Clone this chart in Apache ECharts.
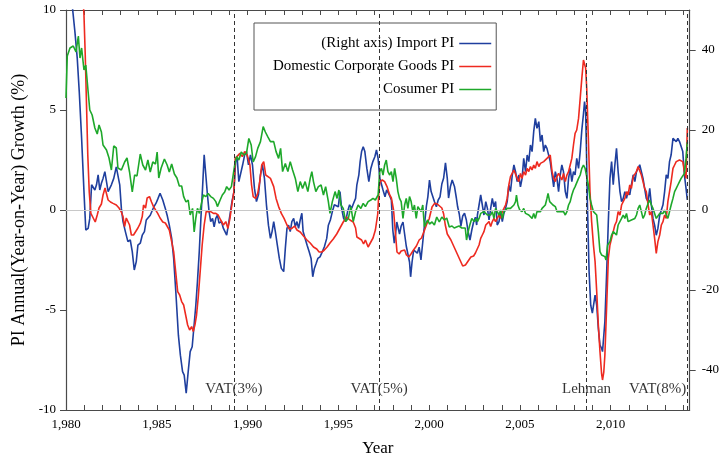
<!DOCTYPE html>
<html><head><meta charset="utf-8">
<script src="https://cdn.jsdelivr.net/npm/echarts@6/dist/echarts.min.js"></script>
<style>html,body{margin:0;padding:0;background:#fff}#c{width:722px;height:463px}</style>
</head><body><div id="c"></div>
<script>
// ---- data: [year, value] ----
const importPI = [
[1980.0,78],[1980.2,65],[1980.36,50.4],[1980.49,44.6],[1980.62,37.9],[1980.73,29.6],[1980.86,17.9],[1980.99,4.6],[1981.09,-5],[1981.22,-4.6],[1981.31,-2.1],[1981.41,6.3],[1981.5,6.7],[1981.59,5],[1981.68,6.3],[1981.77,8.8],[1981.86,5],[1981.95,6.7],[1982.04,7.9],[1982.14,9.6],[1982.23,9.2],[1982.32,4.6],[1982.41,5],[1982.5,6.3],[1982.63,7.9],[1982.77,10.8],[1982.86,10.4],[1982.96,6.3],[1983.05,0.4],[1983.14,-2.9],[1983.27,-5.4],[1983.41,-7.9],[1983.54,-7.5],[1983.65,-10.4],[1983.76,-15],[1983.87,-12.9],[1983.96,-8.8],[1984.09,-8.3],[1984.2,-6.3],[1984.32,-5.4],[1984.42,-2.5],[1984.53,-2.9],[1984.64,-1.3],[1984.74,-0.8],[1984.84,0.8],[1984.96,1.7],[1985.07,2.9],[1985.18,4.2],[1985.33,2.5],[1985.47,0.4],
[1985.57,-1.3],[1985.69,-3.8],[1985.82,-7.1],[1985.93,-12.1],[1986.06,-21.3],[1986.19,-31.3],[1986.3,-36.3],[1986.42,-40.4],[1986.51,-41.3],[1986.62,-45.8],[1986.73,-40.4],[1986.84,-35.4],[1986.95,-34.2],[1987.06,-33.8],[1987.15,-23.8],[1987.24,-17.9],[1987.34,-10.4],[1987.43,-2.1],[1987.52,5.4],[1987.61,13.8],[1987.7,8.8],[1987.79,3.8],[1987.88,-0.4],[1987.97,-2.9],[1988.07,-2.1],[1988.16,-4.2],[1988.25,-2.1],[1988.34,-1.3],[1988.43,-3.3],[1988.56,-2.9],[1988.67,-4.6],[1988.76,-4.2],[1988.85,-6.3],[1988.94,-3.8],[1989.03,-1.3],[1989.14,2.1],[1989.25,4.6],[1989.34,12.1],[1989.43,12.9],[1989.52,7.1],[1989.62,7.5],[1989.73,11.3],[1989.84,13.8],[1989.94,14.6],[1990.05,11.3],[1990.16,13.8],[1990.27,11.3],[1990.38,5.4],[1990.49,2.1],[1990.6,3.8],[1990.71,8.8],[1990.82,11.3],[1990.93,7.9],[1991.04,1.3],[1991.15,-3.8],[1991.26,-7.1],[1991.35,-5.4],
[1991.44,-2.9],[1991.53,-5.4],[1991.64,-8.8],[1991.75,-12.1],[1991.86,-14.6],[1991.99,-15.4],[1992.08,-9.6],[1992.17,-4.6],[1992.26,-3.8],[1992.35,-5.4],[1992.44,-2.9],[1992.54,-2.1],[1992.63,-4.2],[1992.72,-2.9],[1992.81,-4.6],[1992.9,-2.5],[1992.99,-0.8],[1993.06,-5.4],[1993.17,-7.1],[1993.28,-8.8],[1993.39,-10.4],[1993.5,-12.1],[1993.59,-16.7],[1993.68,-14.6],[1993.78,-13.3],[1993.87,-12.1],[1993.99,-11.7],[1994.12,-10.4],[1994.23,-9.2],[1994.36,-7.1],[1994.45,-3.8],[1994.56,-2.5],[1994.67,-0.4],[1994.78,1.3],[1994.89,1.7],[1995.0,0.8],[1995.09,4.6],[1995.18,0.4],[1995.29,-2.1],[1995.4,-2.9],[1995.51,-0.4],[1995.62,1.3],[1995.73,0.4],[1995.84,1.7],[1995.95,2.9],[1996.02,6.3],[1996.13,8.8],[1996.2,12.1],[1996.28,14.6],[1996.37,15.8],[1996.46,14.6],[1996.57,10.4],[1996.68,7.1],[1996.79,10.4],[1996.9,12.1],
[1997.01,13.3],[1997.1,15],[1997.19,12.9],[1997.28,8],[1997.37,8.5],[1997.46,5],[1997.57,3.3],[1997.66,5],[1997.75,4.3],[1997.83,3.5],[1997.92,2.5],[1998.0,-5],[1998.08,-8.3],[1998.15,-6],[1998.22,-3],[1998.3,-2.6],[1998.37,-6],[1998.46,-4],[1998.56,-3],[1998.65,-6],[1998.74,-9],[1998.83,-11],[1998.92,-13],[1998.98,-16.7],[1999.06,-13],[1999.15,-10],[1999.25,-9.5],[1999.35,-10.8],[1999.45,-9.3],[1999.55,-12.5],[1999.65,-8],[1999.76,-3],[1999.85,1],[1999.93,3.3],[2000.02,7.5],[2000.11,4.6],[2000.2,5],[2000.3,2],[2000.4,0.8],[2000.5,2.5],[2000.6,3.3],[2000.7,6.5],[2000.8,8],[2000.9,11.8],[2001.0,7.9],[2001.07,3],[2001.17,5.8],[2001.27,7.5],[2001.4,5.8],[2001.5,3],[2001.57,0.8],[2001.66,-1],[2001.75,-4],[2001.85,-1.5],[2001.95,-0.8],[2002.05,-2.5],[2002.15,-5.5],[2002.25,-7.5],[2002.35,-5],[2002.45,-3],[2002.55,-1.8],[2002.62,-3.75],
[2002.66,-1.25],[2002.75,1.25],[2002.84,3.75],[2002.93,1.25],[2003.02,-1.25],[2003.12,2.1],[2003.21,0.4],[2003.3,-2.5],[2003.39,0.4],[2003.48,2.9],[2003.57,0.8],[2003.66,2.1],[2003.75,-3.75],[2003.85,-2.9],[2003.94,-0.4],[2004.03,-2.9],[2004.12,-0.8],[2004.21,0.4],[2004.3,2.1],[2004.39,6.25],[2004.48,4.6],[2004.58,8.75],[2004.67,11.25],[2004.76,9.6],[2004.85,7.1],[2004.94,8.75],[2005.03,5.8],[2005.12,7.9],[2005.21,12.9],[2005.31,9.6],[2005.4,13.75],[2005.49,12.1],[2005.58,16.25],[2005.67,14.6],[2005.76,19.6],[2005.85,22.9],[2005.94,20.4],[2006.04,22.1],[2006.13,17.1],[2006.22,18.75],[2006.31,14.6],[2006.4,16.25],[2006.49,15.4],[2006.58,15.8],[2006.67,12.1],[2006.77,8.75],[2006.86,5.8],[2006.95,9.6],[2007.04,7.9],[2007.13,4.6],[2007.22,8.75],[2007.31,11.25],[2007.4,9.6],[2007.5,4.6],[2007.59,2.9],[2007.68,7.9],[2007.77,10.4],[2007.86,7.1],[2007.95,9.6],[2008.04,8.75],[2008.13,12.9],[2008.23,10.4],[2008.32,14.6],[2008.41,20],[2008.5,24],[2008.56,27.1],[2008.62,24.6],[2008.66,16],
[2008.72,1.3],[2008.81,-15.4],[2008.9,-23.8],[2008.99,-25.8],[2009.08,-25.8],[2009.14,-21.3],[2009.23,-23.8],[2009.32,-29.6],[2009.41,-33.8],[2009.5,-34.6],[2009.55,-35.4],[2009.68,-27.9],[2009.78,-15.4],[2009.87,-2.9],[2009.96,7.9],[2010.05,12.1],[2010.14,6.3],[2010.23,11.3],[2010.32,15.4],[2010.41,9.6],[2010.51,4.6],[2010.6,2.1],[2010.69,2.9],[2010.78,4.6],[2010.87,2.9],[2010.96,4.6],[2011.05,3.8],[2011.14,6.3],[2011.24,8.8],[2011.33,7.1],[2011.42,9.6],[2011.51,10.4],[2011.6,11.3],[2011.69,9.6],[2011.78,7.9],[2011.87,5.4],[2011.96,2.9],[2012.06,2.1],[2012.15,5.4],[2012.24,1.3],[2012.33,-2.1],[2012.42,-3.8],[2012.51,-6.3],[2012.6,-4.6],[2012.7,-1.3],[2012.79,-0.8],[2012.88,1.3],[2012.97,4.6],[2013.06,8.8],[2013.15,7.9],[2013.24,12.1],[2013.33,13.8],[2013.43,17.9],[2013.52,18.3],[2013.61,17.1],[2013.7,17.9],[2013.79,17.1],[2013.88,17.5],[2013.97,14.6],[2014.06,8.8],[2014.15,5.4],[2014.22,2.5]
];
const cgpi = [
[1980.0,17],[1980.5,16],[1980.85,12],[1980.99,9.75],[1981.06,7.75],[1981.13,5.25],[1981.2,2.75],[1981.28,0.9],[1981.37,-0.17],[1981.5,-0.4],[1981.61,-0.6],[1981.72,-0.25],[1981.82,0.1],[1981.95,0.3],[1982.04,0.75],[1982.15,1.1],[1982.23,1.0],[1982.32,0.5],[1982.45,0.4],[1982.59,0.33],[1982.77,0.25],[1982.92,0.1],[1983.05,-0.1],[1983.14,-0.33],[1983.23,-0.83],[1983.32,-0.4],[1983.41,-0.4],[1983.5,-0.75],[1983.6,-1.25],[1983.72,-1.25],[1983.83,-1.17],[1983.96,-0.9],[1984.09,-0.67],[1984.2,-0.33],[1984.27,0.25],[1984.38,0.1],[1984.47,0.6],[1984.6,0.67],[1984.71,0.4],[1984.82,0.17],[1984.93,0.08],[1985.05,-0.17],[1985.18,-0.4],[1985.33,-0.6],[1985.47,-0.65],[1985.57,-0.7],[1985.69,-1.0],
[1985.82,-1.58],[1985.93,-2.08],[1986.04,-3.08],[1986.15,-4.08],[1986.26,-4.25],[1986.37,-4.58],[1986.48,-4.75],[1986.59,-5.25],[1986.7,-5.75],[1986.81,-6.0],[1986.92,-5.83],[1987.01,-6.08],[1987.1,-5.75],[1987.19,-5.25],[1987.28,-4.4],[1987.39,-3.08],[1987.5,-1.75],[1987.61,-0.75],[1987.72,-0.08],[1987.83,0],[1987.97,-0.08],[1988.12,-0.17],[1988.25,-0.17],[1988.38,-0.25],[1988.52,-0.5],[1988.67,-0.75],[1988.8,-0.58],[1988.92,-0.92],[1989.03,-0.42],[1989.16,0.42],[1989.25,0.92],[1989.32,2.58],[1989.43,2.67],[1989.58,2.83],[1989.71,2.67],[1989.84,2.92],[1989.98,2.75],[1990.13,2.25],[1990.22,1.25],[1990.31,0.67],[1990.44,0.58],[1990.56,0.83],[1990.67,1.42],[1990.78,2.25],[1990.89,2.42],[1991.0,1.75],[1991.11,1.67],[1991.26,1.58],
[1991.44,1.17],[1991.57,0.58],[1991.71,0.17],[1991.86,-0.17],[1992.01,-0.42],[1992.17,-0.75],[1992.3,-0.95],[1992.44,-0.92],[1992.59,-0.8],[1992.72,-1.0],[1992.9,-1.1],[1993.08,-1.3],[1993.27,-1.5],[1993.45,-1.65],[1993.63,-1.85],[1993.81,-1.95],[1993.94,-2.1],[1994.09,-2.1],[1994.23,-2.0],[1994.38,-1.85],[1994.54,-1.65],[1994.72,-1.45],[1994.91,-1.2],[1995.09,-0.9],[1995.27,-0.6],[1995.45,-0.35],[1995.64,-0.5],[1995.82,-0.6],[1995.95,-0.9],[1996.02,-1.35],[1996.13,-1.45],[1996.28,-1.5],[1996.39,-1.7],[1996.49,-1.5],[1996.64,-1.85],[1996.79,-1.6],[1996.91,-1.4],[1997.04,-1.0],[1997.17,-0.2],
[1997.24,1.08],[1997.3,1.42],[1997.42,1.5],[1997.55,1.42],[1997.68,1.17],[1997.83,0.75],[1997.92,0.6],[1998.04,0.0],[1998.13,-1.0],[1998.23,-2.1],[1998.35,-2.2],[1998.46,-2.05],[1998.55,-2.15],[1998.65,-2.0],[1998.75,-2.25],[1998.88,-2.35],[1999.0,-2.2],[1999.14,-2.0],[1999.3,-1.8],[1999.45,-1.5],[1999.58,-1.4],[1999.75,-1.0],[1999.87,-0.7],[2000.0,-0.45],[2000.16,0.15],[2000.3,0.33],[2000.45,0.3],[2000.56,0.2],[2000.7,0.1],[2000.8,-0.2],[2000.89,-0.75],[2001.0,-1.2],[2001.2,-1.5],[2001.4,-1.9],[2001.55,-2.2],[2001.7,-2.5],[2001.85,-2.8],[2002.0,-2.75],[2002.15,-2.55],[2002.3,-2.35],[2002.45,-2.3],[2002.55,-2.15],[2002.66,-2.08],
[2002.75,-1.75],[2002.84,-1.42],[2002.93,-1.25],[2003.02,-1.08],[2003.12,-0.75],[2003.21,-0.83],[2003.3,-0.58],[2003.39,-0.83],[2003.48,-0.58],[2003.57,-0.42],[2003.66,-0.58],[2003.75,-0.42],[2003.85,-0.25],[2003.94,-0.42],[2004.03,-0.08],[2004.12,0.08],[2004.21,0.25],[2004.3,0.58],[2004.39,1.25],[2004.48,1.67],[2004.58,1.75],[2004.67,2.0],[2004.76,1.92],[2004.85,1.58],[2004.94,1.42],[2005.03,1.83],[2005.12,1.58],[2005.21,1.92],[2005.31,1.75],[2005.4,2.08],[2005.49,1.92],[2005.58,2.17],[2005.67,2.0],[2005.76,2.25],[2005.85,2.08],[2005.94,2.42],[2006.04,2.17],[2006.13,2.33],[2006.22,2.25],[2006.31,2.42],[2006.4,2.5],[2006.49,2.58],[2006.58,2.67],[2006.67,2.75],[2006.77,1.92],[2006.86,1.58],[2006.95,1.42],[2007.04,1.67],[2007.13,1.83],[2007.22,1.75],[2007.31,1.5],[2007.4,1.83],[2007.5,1.42],[2007.59,1.75],[2007.68,1.92],[2007.77,2.25],[2007.86,2.58],[2007.95,3.25],[2008.04,3.83],[2008.13,4.0],[2008.23,4.58],[2008.32,5.58],[2008.41,6.58],[2008.5,7.5],[2008.56,7.42],[2008.62,7.1],
[2008.68,6.08],[2008.77,3.58],[2008.86,0.92],[2008.95,-0.58],[2009.05,-1.75],[2009.14,-2.58],[2009.23,-4.08],[2009.32,-5.75],[2009.41,-7.08],[2009.5,-8.2],[2009.55,-8.5],[2009.62,-8.1],[2009.68,-7.25],[2009.78,-4.75],[2009.87,-2.42],[2009.96,-1.75],[2010.05,-1.42],[2010.14,-1.08],[2010.23,-0.75],[2010.32,-0.58],[2010.41,-0.08],[2010.51,-0.25],[2010.6,0.25],[2010.69,0.42],[2010.78,0.58],[2010.87,0.92],[2010.96,0.75],[2011.05,1.25],[2011.14,1.08],[2011.24,1.67],[2011.33,1.58],[2011.42,1.92],[2011.51,2.17],[2011.6,2.08],[2011.69,1.75],[2011.78,1.42],[2011.87,1.08],[2011.96,0.92],[2012.06,0.25],[2012.15,-0.25],[2012.24,-0.08],[2012.33,-0.75],[2012.42,-1.42],[2012.51,-2.17],[2012.6,-1.58],[2012.7,-1.25],[2012.79,-0.75],[2012.88,-0.58],[2012.97,-0.25],[2013.06,-0.42],[2013.15,0.42],[2013.24,0.92],[2013.33,1.42],[2013.43,2.08],[2013.52,2.25],[2013.61,2.42],[2013.7,2.33],[2013.79,2.5],[2013.88,2.58],[2013.97,2.42],[2014.06,1.92],[2014.15,1.58],[2014.22,4.1]
];
const cpi = [
[1980.0,5.6],[1980.07,7.7],[1980.22,8.1],[1980.4,8.2],[1980.55,7.9],[1980.68,8.7],[1980.77,7.6],[1980.86,8.1],[1980.99,7.0],[1981.09,7.25],[1981.22,5.9],[1981.31,5.0],[1981.44,4.75],[1981.59,4.1],[1981.72,3.8],[1981.82,4.25],[1981.95,3.9],[1982.04,3.25],[1982.23,3.0],[1982.37,2.6],[1982.5,2.0],[1982.63,3.2],[1982.77,3.1],[1982.86,2.1],[1983.05,2.0],[1983.23,2.4],[1983.36,2.6],[1983.5,1.9],[1983.65,0.9],[1983.78,1.75],[1983.91,1.7],[1984.09,2.8],[1984.23,2.25],[1984.38,2.0],[1984.51,2.5],[1984.64,1.9],[1984.78,2.4],[1984.93,2.3],[1985.02,2.9],[1985.11,1.6],[1985.24,2.1],[1985.42,2.55],
[1985.57,2.25],[1985.69,1.9],[1985.82,2.3],[1985.97,1.8],[1986.11,1.6],[1986.24,1.2],[1986.37,1.2],[1986.48,0.67],[1986.61,0.4],[1986.73,0.5],[1986.84,-0.25],[1986.97,0.08],[1987.06,-1.1],[1987.15,-0.4],[1987.24,0.08],[1987.35,-0.17],[1987.46,0.33],[1987.57,0.75],[1987.7,0.67],[1987.83,0.83],[1987.97,0.67],[1988.12,0.58],[1988.25,0.42],[1988.34,0.17],[1988.49,0.5],[1988.61,0.75],[1988.74,0.9],[1988.85,1.17],[1988.98,1.0],[1989.11,1.17],[1989.22,1.08],[1989.29,2.25],[1989.4,2.67],[1989.52,2.5],[1989.65,2.9],[1989.8,2.75],[1989.94,2.83],[1990.07,3.58],[1990.2,3.25],[1990.31,2.4],[1990.44,2.67],[1990.56,3.08],[1990.71,3.42],[1990.86,4.17],[1990.98,3.9],[1991.11,3.67],[1991.26,3.42],[1991.44,3.42],
[1991.57,2.92],[1991.71,2.58],[1991.82,3.08],[1991.93,1.92],[1992.08,2.33],[1992.22,1.92],[1992.35,2.42],[1992.48,2.0],[1992.63,1.58],[1992.77,0.92],[1992.9,1.42],[1993.03,1.08],[1993.17,1.42],[1993.32,0.92],[1993.45,1.58],[1993.54,1.92],[1993.63,1.42],[1993.76,0.92],[1993.9,1.17],[1994.05,1.25],[1994.18,0.75],[1994.3,1.17],[1994.45,0.42],[1994.54,-0.17],[1994.67,0.42],[1994.82,0.92],[1994.93,0.58],[1995.03,1.0],[1995.14,0.25],[1995.27,0.08],[1995.4,-0.58],[1995.55,-0.42],[1995.69,0.17],[1995.82,-0.58],[1995.95,-0.08],[1996.09,0.25],[1996.24,0.08],[1996.37,0.33],[1996.49,0.17],[1996.64,0.42],[1996.79,0.5],[1996.91,0.58],[1997.04,0.5],[1997.19,0.75],
[1997.28,1.92],[1997.37,2.08],[1997.46,1.75],[1997.55,2.25],[1997.64,2.5],[1997.73,1.92],[1997.83,1.75],[1997.92,1.92],[1998.01,1.42],[1998.1,2.08],[1998.19,1.58],[1998.28,0.92],[1998.37,0.58],[1998.46,0.42],[1998.56,-0.42],[1998.65,0.25],[1998.74,0.58],[1998.83,0.08],[1998.92,0.67],[1999.01,0.42],[1999.1,-0.08],[1999.19,0.25],[1999.29,-0.42],[1999.38,0.17],[1999.47,0.25],[1999.56,-0.08],[1999.65,0.25],[1999.74,-0.83],[1999.83,-0.65],[1999.92,-0.5],[2000.02,-0.7],[2000.16,-0.6],[2000.29,-0.75],[2000.42,-0.35],[2000.56,-0.6],[2000.7,-0.35],[2000.84,-0.5],[2000.97,-0.4],[2001.11,-0.85],[2001.26,-0.8],[2001.38,-0.9],[2001.51,-0.85],[2001.65,-0.8],[2001.8,-0.9],[2001.91,-0.85],[2001.99,-0.9],[2002.06,-1.5],[2002.17,-1.0],[2002.24,-0.75],[2002.35,-0.42],[2002.48,-0.58],[2002.61,-0.42],
[2002.66,-0.58],[2002.75,-0.42],[2002.84,-0.17],[2002.93,-0.25],[2003.02,-0.08],[2003.12,-0.17],[2003.21,-0.25],[2003.3,-0.17],[2003.39,-0.25],[2003.48,-0.08],[2003.57,-0.42],[2003.66,0.08],[2003.75,-0.08],[2003.85,-0.25],[2003.94,0],[2004.03,-0.42],[2004.12,-0.08],[2004.21,-0.17],[2004.3,0.08],[2004.39,0],[2004.48,0.08],[2004.58,0.17],[2004.67,0.25],[2004.76,0.42],[2004.81,0.75],[2004.89,0.25],[2004.99,0],[2005.12,-0.08],[2005.21,0.08],[2005.31,-0.17],[2005.4,-0.17],[2005.49,-0.25],[2005.58,-0.17],[2005.67,-0.42],[2005.76,-0.17],[2005.85,-0.42],[2005.94,-0.08],[2006.04,0],[2006.13,-0.08],[2006.22,0.08],[2006.31,0.17],[2006.4,0.25],[2006.49,0.58],[2006.55,0.83],[2006.64,0.42],[2006.71,0.33],[2006.82,0.25],[2006.95,0.17],[2007.04,-0.08],[2007.13,-0.17],[2007.22,-0.08],[2007.31,-0.17],[2007.4,-0.08],[2007.5,-0.25],[2007.59,-0.08],[2007.68,0.25],[2007.77,0.42],[2007.86,0.75],[2007.95,1.0],[2008.04,1.17],[2008.13,1.25],[2008.23,1.58],[2008.32,1.75],[2008.41,2.08],[2008.5,2.25],[2008.59,2.08],[2008.68,2.0],
[2008.77,1.25],[2008.86,0.58],[2008.95,0.25],[2009.05,-0.08],[2009.14,-0.17],[2009.23,-0.25],[2009.32,-1.08],[2009.41,-2.08],[2009.5,-2.25],[2009.59,-2.25],[2009.68,-2.33],[2009.74,-2.5],[2009.83,-1.75],[2009.96,-1.58],[2010.05,-1.25],[2010.14,-1.08],[2010.23,-1.0],[2010.32,-1.25],[2010.41,-0.75],[2010.51,-0.83],[2010.6,-0.42],[2010.69,-0.25],[2010.78,-0.42],[2010.87,-0.17],[2010.96,-0.58],[2011.05,-0.5],[2011.14,-0.5],[2011.24,-0.42],[2011.33,-0.42],[2011.42,-0.25],[2011.51,0.08],[2011.6,0.25],[2011.69,-0.08],[2011.78,-0.42],[2011.87,-0.25],[2011.96,0.08],[2012.06,0.33],[2012.15,0.5],[2012.24,0.25],[2012.33,0.08],[2012.42,-0.17],[2012.51,-0.42],[2012.6,-0.33],[2012.7,-0.17],[2012.79,-0.25],[2012.88,-0.17],[2012.97,0],[2013.06,-0.25],[2013.15,-0.42],[2013.24,-0.08],[2013.33,0.25],[2013.43,0.58],[2013.52,0.92],[2013.61,1.08],[2013.7,1.25],[2013.79,1.42],[2013.88,1.58],[2013.97,1.67],[2014.06,1.83],[2014.15,2.58],[2014.22,3.4]
];
const seriesNames = ['(Right axis) Import PI', 'Domestic Corporate Goods PI', 'Cosumer PI'];
const seriesColors = ['#1f3f9e', '#ee2a20', '#1ea82a'];
const xTickYears = [1980,1981,1982,1983,1984,1985,1986,1987,1988,1989,1990,1991,1992,1993,1994,1995,1996,1997,1998,1999,2000,2001,2002,2003,2004,2005,2006,2007,2008,2009,2010,2011,2012,2013,2014];
const xLabelYears = [1980,1985,1990,1995,2000,2005,2010];
const leftTicks = [-10,-5,0,5,10];
const rightTicks = [-40,-20,0,20,40];
const eventYears = [1989.25, 1997.25, 2008.67, 2014.22];
const eventLabels = ['VAT(3%)', 'VAT(5%)', 'Lehman', 'VAT(8%)'];
const eventLabelLevel = -8.95;

// ---- chart ----
const FONT = "'Liberation Serif','Times New Roman',serif";
const AX = '#4a4a4a';
const TXT = '#000';
const chart = echarts.init(document.getElementById('c'), null, {renderer: 'canvas'});
const xBase = {
  type: 'value', min: 1980, max: 2014.35,
  axisLine: {show: true, onZero: false, lineStyle: {color: AX, width: 1.2}},
  axisTick: {show: true, inside: true, length: 5, customValues: xTickYears, lineStyle: {color: AX}},
  splitLine: {show: false}
};
const option = {
  animation: false,
  backgroundColor: '#fff',
  grid: {left: 66, right: 28.5, top: 10, bottom: 53, containLabel: false},
  legend: {
    show: true, orient: 'vertical', align: 'right', left: 254, top: 23,
    padding: [13, 5, 13, 19], itemGap: 8, itemWidth: 32, itemHeight: 1.6, icon: 'rect',
    borderColor: '#555', borderWidth: 1, backgroundColor: '#fff',
    textStyle: {fontFamily: FONT, fontSize: 15, color: TXT},
    data: seriesNames
  },
  xAxis: [
    Object.assign({}, xBase, {
      position: 'bottom',
      axisLabel: {show: true, customValues: xLabelYears, margin: 8, fontFamily: FONT, fontSize: 13, color: TXT},
      name: 'Year', nameLocation: 'middle', nameGap: 30,
      nameTextStyle: {fontFamily: FONT, fontSize: 17, color: TXT}
    }),
    Object.assign({}, xBase, {position: 'top', axisLabel: {show: false}})
  ],
  yAxis: [
    {
      type: 'value', position: 'left', min: -10, max: 10,
      axisLine: {show: true, onZero: false, lineStyle: {color: AX, width: 1.2}},
      axisTick: {show: true, inside: false, length: 6, customValues: leftTicks, lineStyle: {color: AX}},
      axisLabel: {show: true, customValues: leftTicks, margin: 10, fontFamily: FONT, fontSize: 13, color: TXT},
      splitLine: {show: false},
      name: 'PI Annual(Year-on-Year) Growth (%)', nameLocation: 'middle', nameGap: 38,
      nameTextStyle: {fontFamily: FONT, fontSize: 18, color: TXT}
    },
    {
      type: 'value', position: 'right', min: -50, max: 50,
      axisLine: {show: true, onZero: false, lineStyle: {color: AX, width: 1.2}},
      axisTick: {show: true, inside: false, length: 6, customValues: rightTicks, lineStyle: {color: AX}},
      axisLabel: {show: true, customValues: rightTicks, margin: 12, fontFamily: FONT, fontSize: 13, color: TXT},
      splitLine: {show: false}
    }
  ],
  series: [
    {
      name: seriesNames[0], type: 'line', xAxisIndex: 0, yAxisIndex: 1, data: importPI,
      showSymbol: false, symbol: 'none', clip: true,
      lineStyle: {color: seriesColors[0], width: 1.6}, itemStyle: {color: seriesColors[0]},
      markLine: {
        silent: true, symbol: ['none', 'none'], label: {show: false},
        lineStyle: {color: '#c8c8c8', width: 1, type: 'solid'},
        data: [{yAxis: 0}]
      }
    },
    {
      name: seriesNames[1], type: 'line', xAxisIndex: 0, yAxisIndex: 0, data: cgpi,
      showSymbol: false, symbol: 'none', clip: true,
      lineStyle: {color: seriesColors[1], width: 1.6}, itemStyle: {color: seriesColors[1]}
    },
    {
      name: seriesNames[2], type: 'line', xAxisIndex: 0, yAxisIndex: 0, data: cpi,
      showSymbol: false, symbol: 'none', clip: true,
      lineStyle: {color: seriesColors[2], width: 1.6}, itemStyle: {color: seriesColors[2]}
    },
    {
      name: 'events', type: 'scatter', xAxisIndex: 0, yAxisIndex: 0, symbolSize: 0, silent: true,
      data: eventYears.map((x, i) => ({
        value: [x, eventLabelLevel],
        label: {
          show: true, formatter: eventLabels[i],
          position: i === eventYears.length - 1 ? 'left' : 'inside', distance: 1,
          fontFamily: FONT, fontSize: 15, color: TXT
        }
      })),
      markLine: {
        silent: true, symbol: ['none', 'none'], label: {show: false},
        lineStyle: {color: '#333', width: 1, type: [4, 3]},
        data: eventYears.map(x => ({xAxis: x}))
      }
    }
  ]
};
chart.setOption(option);
</script>
</body></html>
